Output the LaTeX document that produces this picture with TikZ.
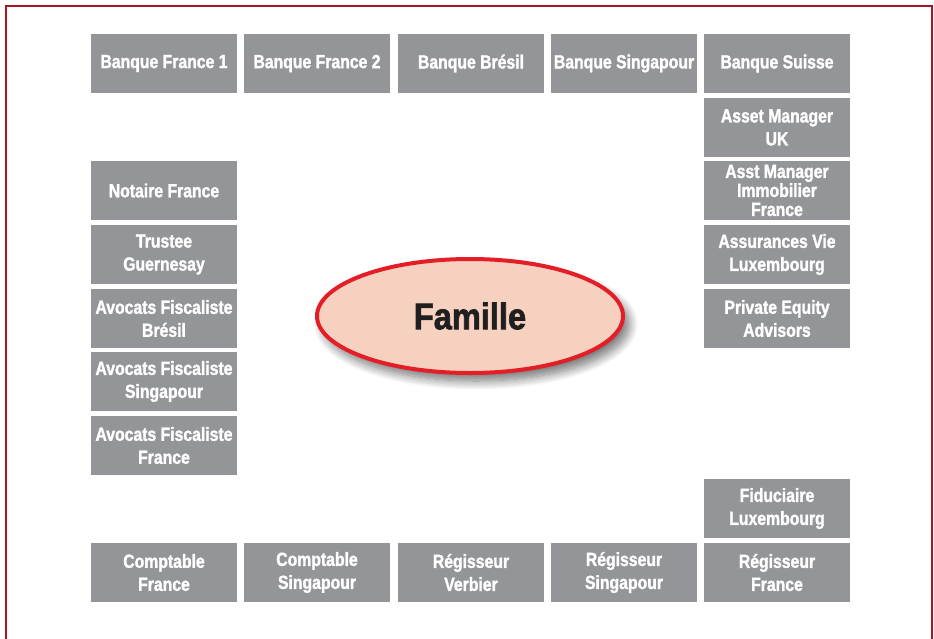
\documentclass[tikz,border=0pt]{standalone}
\usepackage{fontspec}
\setmainfont{Liberation Sans}
\newfontfamily\heavy{Liberation Sans Bold}[FakeStretch=0.83, FakeBold=1.6]
\newfontfamily\heavywide{Liberation Sans Bold}[FakeStretch=0.88, FakeBold=1.8]
\usetikzlibrary{shapes.geometric,shadows.blur}
\definecolor{boxgrey}{HTML}{939598}
\definecolor{framered}{HTML}{A8141F}
\definecolor{ovalred}{HTML}{E31E26}
\definecolor{ovalfill}{HTML}{F7D1C0}
\tikzset{
  party/.style={rectangle, fill=boxgrey, minimum width=146pt, minimum height=59pt,
    inner sep=0pt, text=white, align=center,
    font=\fontsize{19}{23}\selectfont\heavy},
  tight/.style={font=\fontsize{19}{19}\selectfont\heavy},
  family/.style={ellipse, draw=ovalred, line width=4pt, fill=ovalfill,
    minimum width=306pt, minimum height=114pt, inner sep=0pt,
    font=\fontsize{37}{37}\selectfont\heavywide, text=black!88,
    blur shadow={shadow xshift=6pt, shadow yshift=-8pt, shadow blur steps=14,
      shadow blur radius=9pt, shadow opacity=55}},
  frame/.style={draw=framered, line width=2pt}
}
\begin{document}
\begin{tikzpicture}[x=1pt,y=-1pt]
  \useasboundingbox (0,0) rectangle (934,638);
  \draw[frame] (6,640) -- (6,6) -- (932,6) -- (932,640);

  % top row of banks
  \node[party] (bf1) at (164,63.5) {Banque France 1};
  \node[party] (bf2) at (317,63.5) {Banque France 2};
  \node[party] (bbr) at (471,63.5) {Banque Brésil};
  \node[party] (bsg) at (624,63.5) {Banque Singapour};
  \node[party] (bch) at (777,63.5) {Banque Suisse};

  % right column
  \node[party] (amuk) at (777,127.5) {Asset Manager\\UK};
  \node[party,tight] (amif) at (777,190.5) {Asst Manager\\Immobilier\\France};
  \node[party] (avl) at (777,254.5) {Assurances Vie\\Luxembourg};
  \node[party] (pea) at (777,318.5) {Private Equity\\Advisors};
  \node[party] (fidl) at (777,508.5) {Fiduciaire\\Luxembourg};

  % left column
  \node[party] (notf) at (164,190.5) {Notaire France};
  \node[party] (trg) at (164,254.5) {Trustee\\Guernesay};
  \node[party] (afb) at (164,318.5) {Avocats Fiscaliste\\Brésil};
  \node[party] (afs) at (164,381.5) {Avocats Fiscaliste\\Singapour};
  \node[party] (aff) at (164,445.5) {Avocats Fiscaliste\\France};

  % bottom row
  \node[party] (cpf) at (164,572.5) {Comptable\\France};
  \node[party] (cps) at (317,572.5) {Comptable\\Singapour};
  \node[party] (rgv) at (471,572.5) {Régisseur\\Verbier};
  \node[party] (rgs) at (624,572.5) {Régisseur\\Singapour};
  \node[party] (rgf) at (777,572.5) {Régisseur\\France};

  % the family at the centre
  \node[family] (fam) at (470,316) {Famille};
\end{tikzpicture}
\end{document}
